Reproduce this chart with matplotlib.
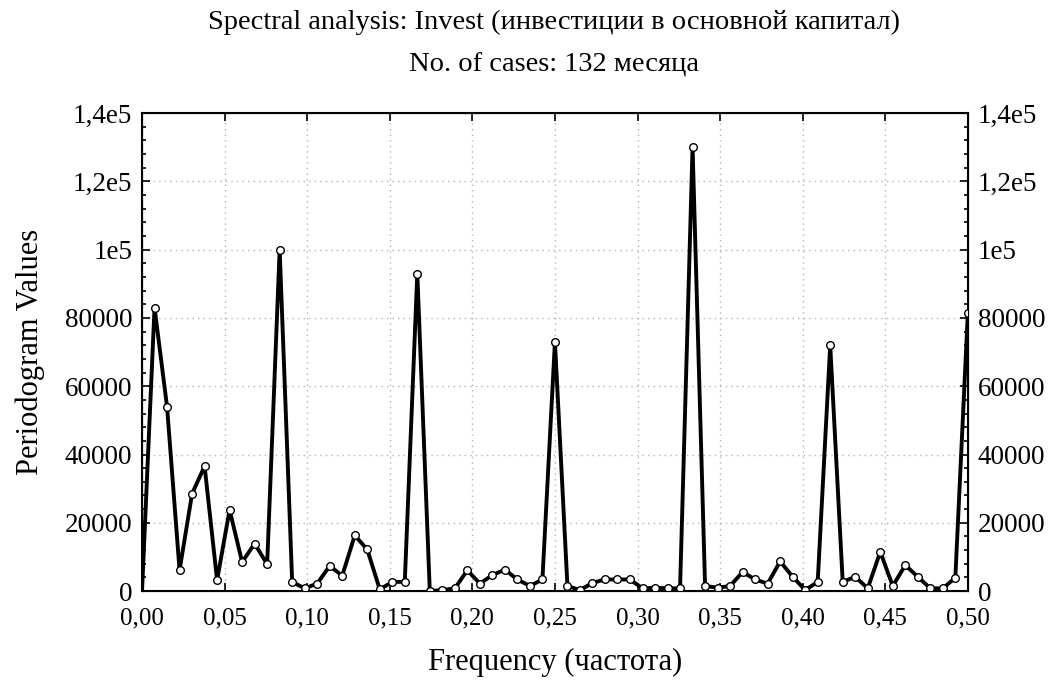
import matplotlib
matplotlib.use("Agg")
import matplotlib.pyplot as plt
from matplotlib.ticker import MultipleLocator

N_CASES = 132

# periodogram values at harmonics k = 0..66 (frequency k / 132)
harmonics = list(range(0, 67))
periodogram = [
    0, 83000, 54000, 6100, 28500, 36600, 3200, 23800, 8500, 13900,
    7900, 100000, 2700, 800, 2200, 7400, 4500, 16300, 12200, 500,
    2700, 2700, 93000, 0, 300, 800, 6100, 2200, 4700, 6300,
    3400, 1500, 3400, 73000, 1500, 300, 2400, 3400, 3400, 3400,
    800, 1000, 800, 800, 130000, 1500, 1000, 1500, 5600, 3400,
    2200, 8700, 4200, 300, 2700, 72000, 2700, 4200, 800, 11500,
    1500, 7600, 4200, 800, 800, 3900, 81500,
]
frequency = [k / N_CASES for k in harmonics]

x_ticks = [0.0, 0.05, 0.10, 0.15, 0.20, 0.25, 0.30, 0.35, 0.40, 0.45, 0.50]
x_labels = ["0,00", "0,05", "0,10", "0,15", "0,20", "0,25", "0,30", "0,35", "0,40", "0,45", "0,50"]
y_ticks = [0, 20000, 40000, 60000, 80000, 100000, 120000, 140000]
y_labels = ["0", "20000", "40000", "60000", "80000", "1e5", "1,2e5", "1,4e5"]

plt.rcParams["font.family"] = ["Liberation Serif", "DejaVu Serif"]

fig = plt.figure(figsize=(10.52, 6.81), dpi=100)
ax = fig.add_axes([0.135, 0.132, 0.785, 0.702])

ax.plot(frequency, periodogram, color="black", linewidth=2.8,
        marker="o", markersize=5.5, markerfacecolor="white",
        markeredgecolor="black", markeredgewidth=1.0,
        markevery=range(1, len(frequency)), zorder=3)

ax.set_xlim(0, 0.5)
ax.set_ylim(0, 140000)
ax.set_xticks(x_ticks)
ax.set_xticklabels(x_labels)
ax.set_yticks(y_ticks)
ax.set_yticklabels(y_labels)
ax.yaxis.set_minor_locator(MultipleLocator(4000))
ax.grid(True, which="major", color="#b4b4b4", linestyle=(0, (1, 3)), linewidth=1.0)

ax.tick_params(axis="both", which="both", direction="in", top=True, width=1.2)
ax.tick_params(axis="both", which="major", length=6)
ax.tick_params(axis="x", which="major", labelsize=18, pad=11.5)
ax.tick_params(axis="y", which="major", labelsize=19.5, pad=7)
ax.tick_params(axis="y", which="minor", length=3)
ax.tick_params(axis="x", which="minor", bottom=False, top=False)
for sp in ax.spines.values():
    sp.set_linewidth(1.5)

ax2 = ax.twinx()
ax2.set_ylim(0, 140000)
ax2.set_yticks(y_ticks)
ax2.set_yticklabels(y_labels)
ax2.yaxis.set_minor_locator(MultipleLocator(4000))
ax2.tick_params(axis="y", which="both", direction="in", labelsize=19.5, width=1.2)
ax2.tick_params(axis="y", which="major", length=6, pad=7)
ax2.tick_params(axis="y", which="minor", length=3)

ax.set_xlabel("Frequency (частота)", fontsize=22)
ax.xaxis.set_label_coords(0.5, -0.118)
ax.set_ylabel("Periodogram Values", fontsize=22)
ax.yaxis.set_label_coords(-0.118, 0.5)

fig.text(0.527, 0.967, "Spectral analysis: Invest (инвестиции в основной капитал)",
         ha="center", va="center", fontsize=20.5)
fig.text(0.527, 0.904, "No. of cases: 132 месяца", ha="center", va="center", fontsize=20.5)

fig.savefig("out.png", dpi=100)
